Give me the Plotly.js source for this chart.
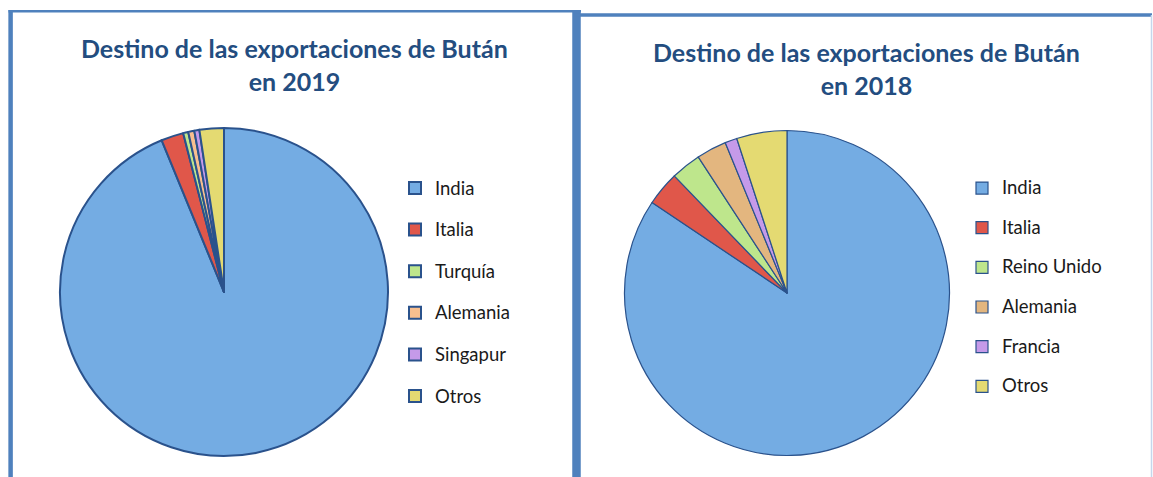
<!DOCTYPE html>
<html>
<head>
<meta charset="utf-8">
<script src="https://cdn.plot.ly/plotly-3.0.1.min.js"></script>
<style>
  html, body { margin: 0; padding: 0; background: #ffffff; }
  #chart { width: 1153px; height: 477px; }
</style>
</head>
<body>
<div id="chart"></div>
<script>
// ---- Data (in %) ----
const categories2019 = ['India', 'Italia', 'Turquía', 'Alemania', 'Singapur', 'Otros'];
const values2019 = [93.8, 2.2, 0.5, 0.6, 0.5, 2.4];
const categories2018 = ['India', 'Italia', 'Reino Unido', 'Alemania', 'Francia', 'Otros'];
const values2018 = [84.4, 3.4, 3.0, 3.0, 1.2, 5.0];
const title2019 = 'Destino de las exportaciones de Bután<br>en 2019';
const title2018 = 'Destino de las exportaciones de Bután<br>en 2018';

// ---- Styles ----
const colors2019 = ['#74ACE3', '#E0574A', '#BEE68C', '#F8BF8F', '#C59AE9', '#E4DA72'];
const colors2018 = ['#74ACE3', '#E0574A', '#BEE68C', '#E3B67F', '#C59AE9', '#E4DA72'];
const W = 1153, H = 477;
const px = x => x / W;
const py = y => 1 - y / H;
const borderColor = '#4F81BD';
const labelFont = 'Lato, "Open Sans", sans-serif';

// Styled legend labels; the shift differs slightly per chart so that the two
// pies keep separate legend entries for shared country names.
function legendLabels(cats, shift) {
  return cats.map(c => '<span style="font-size:18.5px;baseline-shift:' + shift + 'px">' + c + '</span>');
}

const traces = [
  {
    type: 'pie',
    labels: legendLabels(categories2019, 5.5),
    values: values2019,
    sort: false,
    direction: 'clockwise',
    rotation: 0,
    textinfo: 'none',
    hoverinfo: 'percent',
    marker: { colors: colors2019, line: { color: '#2A528C', width: 2 } },
    domain: { x: [px(60), px(388)], y: [py(456), py(128)] },
    legend: 'legend'
  },
  {
    type: 'pie',
    labels: legendLabels(categories2018, 5.2),
    values: values2018,
    sort: false,
    direction: 'clockwise',
    rotation: 0,
    textinfo: 'none',
    hoverinfo: 'percent',
    marker: { colors: colors2018, line: { color: '#2A528C', width: 1.2 } },
    domain: { x: [px(624.5), px(949.5)], y: [py(455.5), py(130.5)] },
    legend: 'legend2'
  }
];

const layout = {
  width: W, height: H,
  margin: { l: 0, r: 0, t: 0, b: 0 },
  paper_bgcolor: '#ffffff',
  plot_bgcolor: '#ffffff',
  font: { family: labelFont, color: '#1a1a1a' },
  showlegend: true,
  legend: {
    x: px(395), y: py(162.2), xanchor: 'left', yanchor: 'top',
    font: { family: labelFont, size: 29.7, color: '#1a1a1a' },
    bgcolor: 'rgba(0,0,0,0)', borderwidth: 0, traceorder: 'normal'
  },
  legend2: {
    x: px(962), y: py(163.2), xanchor: 'left', yanchor: 'top',
    font: { family: labelFont, size: 28.2, color: '#1a1a1a' },
    bgcolor: 'rgba(0,0,0,0)', borderwidth: 0, traceorder: 'normal'
  },
  annotations: [
    {
      text: title2019, xref: 'paper', yref: 'paper',
      x: px(294), y: py(64), xanchor: 'center', yanchor: 'middle',
      showarrow: false, align: 'center',
      font: { family: labelFont, size: 25, color: '#234D80', weight: 'bold' }
    },
    {
      text: title2018, xref: 'paper', yref: 'paper',
      x: px(866), y: py(68), xanchor: 'center', yanchor: 'middle',
      showarrow: false, align: 'center',
      font: { family: labelFont, size: 25, color: '#234D80', weight: 'bold' }
    }
  ],
  shapes: [
    // left panel border
    { type: 'line', xref: 'paper', yref: 'paper', x0: px(10.6), x1: px(10.6), y0: py(10), y1: py(477), line: { color: borderColor, width: 4.5 } },
    { type: 'line', xref: 'paper', yref: 'paper', x0: px(8.5), x1: px(581), y0: py(11.2), y1: py(11.2), line: { color: borderColor, width: 2.5 } },
    { type: 'line', xref: 'paper', yref: 'paper', x0: px(576.5), x1: px(576.5), y0: py(10), y1: py(477), line: { color: borderColor, width: 8.5 } },
    // right panel border
    { type: 'line', xref: 'paper', yref: 'paper', x0: px(576), x1: px(1152), y0: py(15), y1: py(15), line: { color: borderColor, width: 3.5 } },
    { type: 'line', xref: 'paper', yref: 'paper', x0: px(1151.5), x1: px(1151.5), y0: py(15), y1: py(477), line: { color: '#C5D6EC', width: 1.5 } }
  ]
};

Plotly.newPlot('chart', traces, layout, { displayModeBar: false, staticPlot: true });
</script>
</body>
</html>
